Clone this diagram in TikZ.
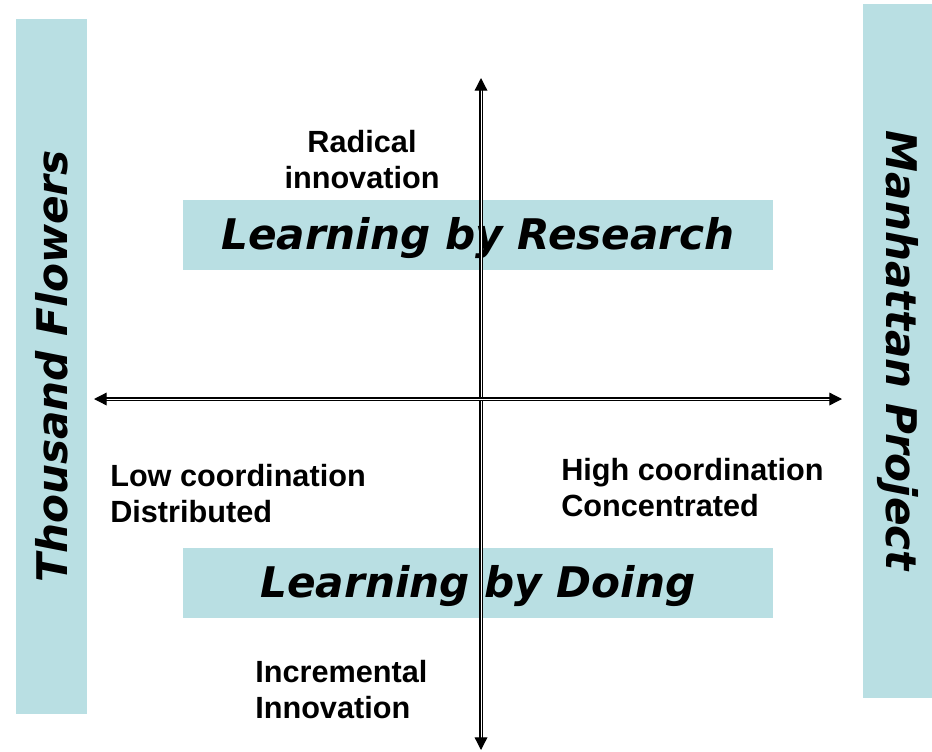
\documentclass[tikz,border=0pt]{standalone}
\usepackage{fontspec}
\usetikzlibrary{arrows.meta,positioning}
\setmainfont{Liberation Sans}
\newfontfamily\titlefont{DejaVu Sans}
\definecolor{paleblue}{RGB}{185,223,227}

\begin{document}
\begin{tikzpicture}[x=0.025cm,y=-0.025cm,
    bar/.style={fill=paleblue,inner sep=0pt,minimum height=1.75cm,
      font=\titlefont\bfseries\itshape\fontsize{30}{36}\selectfont},
    box/.style={fill=paleblue,inner sep=0pt,minimum width=14.75cm,minimum height=1.75cm,
      text height=0.7cm,text depth=0pt,
      font=\titlefont\bfseries\itshape\fontsize{30}{36}\selectfont},
    lbl/.style={inner sep=0pt,align=left,font=\bfseries\fontsize{21.8}{25.6}\selectfont},
    axis/.style={double,double distance=0.7pt,line width=0.9pt,
      {Triangle[length=9pt,width=9pt]}-{Triangle[length=9pt,width=9pt]}}]
  \useasboundingbox (0,0) rectangle (932,751);

  % side bars
  \node[bar,rotate=90,minimum width=17.375cm] (flowers) at (51.5,366.5) {Thousand Flowers};
  \node[bar,rotate=-90,minimum width=17.35cm,minimum height=1.725cm] (manhattan) at (897.5,351) {Manhattan Project};

  % the two learning modes
  \node[box] (research) at (478,235) {Learning by Research};
  \node[box] (doing) at (478,583) {Learning by Doing};

  % axes
  \coordinate (ytop) at (481,78);
  \coordinate (ybot) at (481,750);
  \coordinate (xleft) at (94,399);
  \coordinate (xright) at (842,399);
  \draw[axis] (ybot) -- (ytop);
  \draw[axis] (xleft) -- (xright);

  \node[lbl,align=center] (radical) at (362,160) {Radical\\innovation};
  \node[lbl,anchor=west] (low) at (110,494) {Low coordination\\Distributed};
  \node[lbl,anchor=west] (high) at (561,488) {High coordination\\Concentrated};
  \node[lbl,anchor=west] (incr) at (255,690) {Incremental\\Innovation};
\end{tikzpicture}
\end{document}
